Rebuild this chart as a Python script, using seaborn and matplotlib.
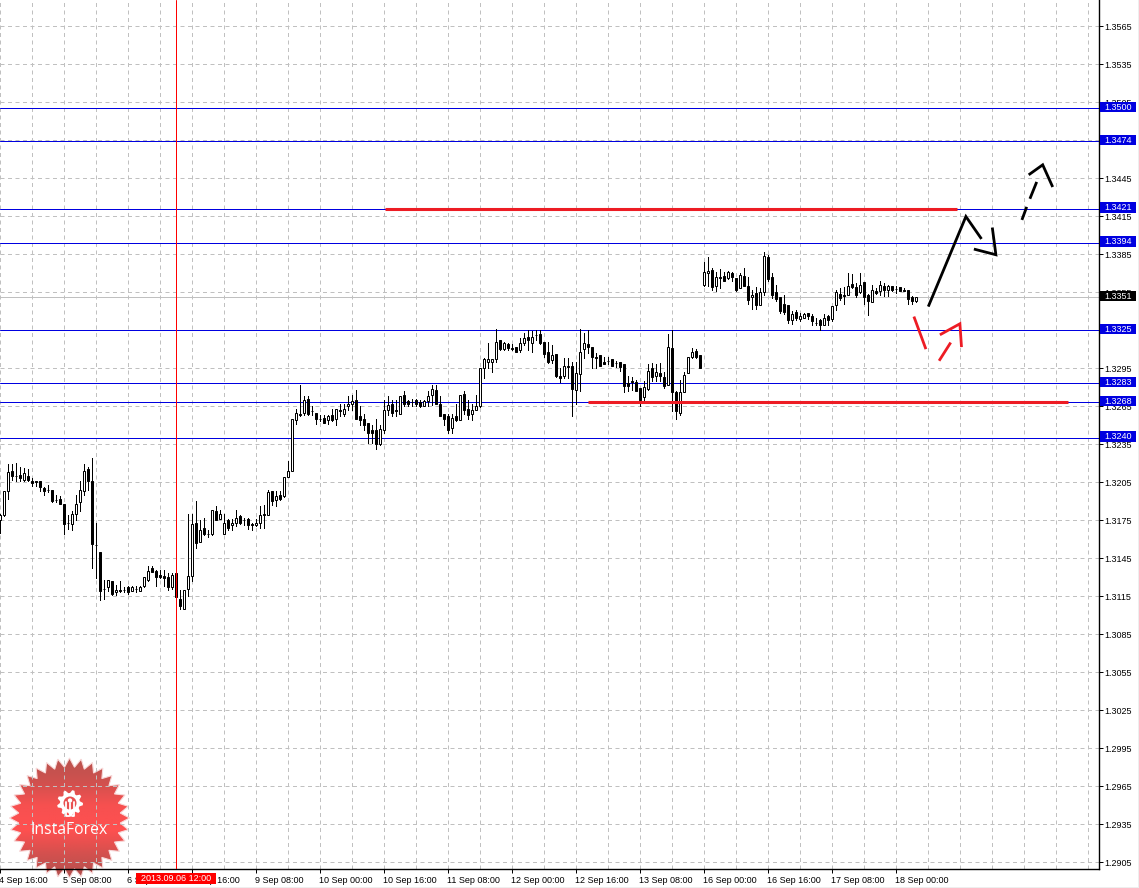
import numpy as np
import pandas as pd
import seaborn as sns
import matplotlib.pyplot as plt
from matplotlib.patches import Polygon, Circle, Rectangle
from matplotlib.colors import LinearSegmentedColormap
from matplotlib.transforms import ScaledTranslation

# candle values in pips (13175 = 1.3175)
opens = [13175,13179,13198,13214,13210,13210.5,13207,13210,13206,13206,
         13206,13200,13199,13199,13191,13192,13188,13173,13172,13180,
         13189,13198,13215,13206,13155,13150,13120.5,13122,13127,13118,
         13120,13120,13122,13119,13121,13119,13123,13128,13137,13135,
         13132,13131,13130,13122,13133,13113,13105,13121,13131,13173,
         13158,13169,13164,13164,13182,13176,13164,13175,13171,13173,
         13178,13175,13175.5,13172,13171,13173,13180,13179,13198,13191,
         13195,13194,13209,13214,13254,13258,13259.5,13270.5,13261,13259.5,
         13255,13255.5,13254,13258,13255,13262,13259,13265,13267,13270,
         13257,13255,13252,13246,13246,13235,13246,13262,13267,13262,
         13259,13274,13269,13268,13270,13268,13265,13269,13273.5,13278,
         13267,13259,13257,13248,13257,13254,13274.5,13263,13259,13262,
         13265,13295,13300,13300,13302,13317,13310,13314,13311,13311.5,
         13309.5,13315,13319.5,13315,13321,13322,13316,13308,13301.5,13306,
         13288.5,13289,13297,13297,13277.5,13290,13310,13314,13311.5,13304,
         13305,13300,13300.5,13302,13299,13300,13298,13283,13285,13284,
         13279,13272,13278.5,13295,13288.5,13291.5,13288,13282,13311,13276.5,
         13259.5,13276.5,13291,13304,13308.5,13305,13361,13370,13372.5,13359.5,
         13367,13367.5,13366,13370,13366.5,13358,13368,13360,13351,13354,
         13345,13355,13383,13367,13355,13351,13346,13345,13333,13339,
         13334,13334.5,13338.5,13336.5,13331,13333,13329,13336.5,13334,13344.5,
         13353.5,13353,13353,13361.5,13359,13355,13363,13353,13347.5,13356,
         13356,13360,13357,13359.5,13357.5,13359,13357,13357,13351,13348]
closes = [13179,13198,13213,13210,13210,13208,13212,13207,13204,13205,
          13201,13198,13199,13190,13191,13188,13172,13173,13180,13188,
          13199,13214,13206,13156,13155,13119,13120.5,13128,13117,13120,
          13119,13120,13118,13122,13121,13122,13130,13135,13134,13130,
          13130,13129,13122,13132,13114,13107,13120,13131,13172,13157,
          13167,13164,13164,13183,13175,13180,13173,13169,13173,13177,
          13173,13175,13171,13171,13173,13179,13179,13197,13190,13194,
          13192,13209,13214,13255,13259.5,13258.5,13270,13259,13261,13255,
          13255,13252,13257,13254,13263,13261,13263,13267,13269,13255,
          13254,13250,13244,13244,13235,13247,13262,13266,13259.5,13261,
          13273,13267,13267,13268,13267,13265,13269,13273,13278.5,13267,
          13257,13255,13246,13256,13254,13274,13262,13258,13262,13265,
          13295,13302,13302,13302,13315.5,13310,13315,13311,13310,13308,
          13315,13319,13317,13319.5,13321,13315,13306,13300,13305,13288.5,
          13287.5,13297,13295.5,13278.5,13291,13308,13315,13312,13303.5,13303,
          13297,13298,13300.5,13297,13299,13296,13280.5,13281,13284,13277,
          13270,13280,13293,13288,13292,13288.5,13281,13311.5,13276,13261,
          13276,13289.5,13304,13308,13303.5,13295,13371,13371.5,13359,13367,
          13366,13364,13371,13367,13357,13368.5,13360,13349,13352.5,13344.5,
          13355,13383.5,13365.5,13352.5,13349.5,13340,13339,13333,13337.5,13334.5,
          13336,13337.5,13336,13332,13331,13329,13334.5,13333,13344,13355,
          13350,13352,13360,13359,13353,13361,13351.5,13348,13357,13354,
          13361,13357,13360,13357,13357.5,13356,13356,13349.5,13348,13351]
highs = [13180,13198,13219,13219,13220,13217,13216,13215,13208,13206,
         13206,13201,13203,13199,13195,13194,13188,13179,13182,13195,
         13206,13219,13217,13224,13173,13150,13128,13128,13127,13124,
         13127,13122,13123,13123,13123,13123,13130,13139,13139,13136,
         13136,13136,13133,13133,13134,13120,13120,13180,13180,13190,
         13175,13177,13167,13183,13186,13183,13180,13176,13176,13183,
         13179,13177,13177,13173,13176,13186,13187,13199,13198,13198,
         13198,13209,13222,13255,13263,13282,13273,13273,13265,13259.5,
         13258,13258,13258,13263,13263,13267,13267,13273,13274,13278,
         13265,13259,13252,13250,13255,13250,13270,13273,13270,13270,
         13273,13277,13270,13270.5,13270.5,13270,13270,13277,13282,13282,
         13273,13259,13259,13259,13267,13274,13277,13270,13267,13274,
         13295,13303,13315,13302,13326,13317,13316,13315,13314,13312,
         13319,13323,13325,13324,13325,13325,13316,13315.5,13313,13306,
         13295,13303,13303,13300,13300,13326,13323,13325,13312,13307,
         13305,13304,13304,13302,13301,13300,13298,13289,13288,13286,
         13279,13285,13298,13299,13298,13299,13292,13322,13325,13277,
         13286,13292,13304,13311,13310,13305,13379,13383,13374,13370.5,
         13373,13371,13372,13371,13366.5,13370,13374,13367,13357,13359,
         13358,13387,13384.5,13370,13361,13351,13353,13345,13340,13341,
         13338.5,13338.5,13338.5,13337.5,13334.5,13334,13337.5,13337,13344,13357,
         13358,13359,13370,13369,13362,13370,13363,13353.5,13361,13358,
         13363.5,13362,13361,13360,13359.5,13359,13358,13357,13352,13351.5]
lows = [13165,13178,13192,13207,13206,13206,13206,13206,13202,13202,
        13198,13195,13197,13189,13189,13188,13164,13168,13167,13175,
        13182,13195,13199,13137,13129,13112,13113,13119,13116,13116,
        13118,13118,13117,13119,13118,13119,13122,13127,13134,13123,
        13129,13123,13120,13121,13112,13105,13105,13115,13127,13153,
        13158,13163,13161.5,13163,13175,13176,13164,13167,13167.5,13170,
        13172,13171,13168,13167,13170,13169,13169,13179,13187,13186,
        13191,13193,13209,13214,13251,13257,13258,13258,13258,13251,
        13253,13252,13251,13253,13250,13257,13257,13262,13262,13255,
        13250,13246,13236,13236,13231,13234.5,13244,13258,13257,13257,
        13259,13265,13265,13265,13265,13264,13265,13265,13266,13267,
        13257,13250,13244,13244,13253,13254,13259,13255,13254,13262,
        13264,13287,13295,13292,13300,13309.5,13309,13309.5,13309.5,13308,
        13308,13313,13309.5,13308,13317,13314,13304,13299,13299,13288,
        13284,13287,13287,13257,13267,13277,13303,13307,13295,13295,
        13297,13298,13298,13297,13296,13293,13276,13277,13278,13277,
        13265,13270,13278,13284.5,13284.5,13285,13279,13282,13261,13255,
        13258,13276.5,13291,13303,13303,13295,13360,13359.5,13357,13355.5,
        13358,13364,13365,13363.5,13355.5,13358,13359.5,13345.5,13342,13341.5,
        13345,13353,13363.5,13350,13348,13338.5,13337.5,13330.5,13330,13333,
        13332,13334.5,13334,13329,13329,13325,13329,13329,13332.5,13341,
        13349,13346,13353,13358,13351,13354,13346,13337,13347.5,13353.5,
        13353,13352,13352,13355.5,13354,13356,13356,13346,13346,13347.5]

date_labels = ['4 Sep 16:00', '5 Sep 08:00', '6 Sep 00:00', '6 Sep 16:00', '9 Sep 08:00',
               '10 Sep 00:00', '10 Sep 16:00', '11 Sep 08:00', '12 Sep 00:00', '12 Sep 16:00',
               '13 Sep 08:00', '16 Sep 00:00', '16 Sep 16:00', '17 Sep 08:00', '18 Sep 00:00']
price_ticks = [1.2905 + 0.003 * i for i in range(23)]
levels = [1.3500, 1.3474, 1.3421, 1.3394, 1.3325, 1.3283, 1.3268, 1.3240]
bid = 1.3351
cursor_bar = 44
cursor_label = '2013.09.06 12:00'

# hand drawn lines: (bar, pips)
red_levels = [(96.1, 239.1, 1.3421), (146.9, 266.9, 1.3268)]
black_strokes = [[(232.0, 13343.6), (241.4, 13414.7), (245.3, 13397)],
                 [(243.4, 13389), (248.9, 13384.5), (248.0, 13406)],
                 [(255.4, 13412), (256.6, 13422.3)],
                 [(257.4, 13428.7), (259.1, 13442)],
                 [(257.1, 13447.6), (260.6, 13455.5), (263.1, 13438)]]
red_strokes = [[(228.4, 13335.7), (231.4, 13310)],
               [(234.7, 13300.8), (237.6, 13315.2)],
               [(234.9, 13321.3), (239.9, 13330), (240.3, 13311.6)]]

W, H = 1139, 888
RIGHT, BOTTOM = 1098.5, 869
FONT = 'Liberation Sans'
PX = 0.72
RED = '#ed1c24'
BLUE = '#0000e0'
YMIN, YMAX = 1.289954, 1.358564
XMIN = -0.075

sns.set_theme(style='white')
plt.rcParams['font.family'] = [FONT, 'DejaVu Sans']

df = pd.DataFrame({'bar': np.arange(len(opens)), 'open': opens, 'close': closes, 'high': highs, 'low': lows})
for c in ['open', 'close', 'high', 'low']:
    df[c] = df[c] / 10000
wicks = df.melt(id_vars='bar', value_vars=['high', 'low'], value_name='price')

fig = plt.figure(figsize=(W / 100, H / 100), dpi=100, facecolor='white')
ax = fig.add_axes([0, (H - BOTTOM) / H, RIGHT / W, BOTTOM / H], zorder=1)
ax.patch.set_visible(False)

sns.lineplot(data=wicks, x='bar', y='price', units='bar', estimator=None, color='black',
             linewidth=PX, legend=False, sort=False, ax=ax, zorder=3, antialiased=False)

up = df['close'] > df['open']
ax.bar(df['bar'], (df['close'] - df['open']).abs(), bottom=df[['open', 'close']].min(axis=1),
       width=0.5, color=np.where(up, 'white', 'black'), edgecolor='black', linewidth=PX, zorder=4)

ax.set_xlim(XMIN, XMIN + RIGHT / 4)
ax.set_ylim(YMIN, YMAX)
ax.set_xlabel('')
ax.set_ylabel('')

# grid and ticks
ax.set_xticks(np.arange(len(date_labels)) * 16)
ax.set_xticks(np.arange(0, 274, 8), minor=True)
ax.set_xticklabels(date_labels, ha='left', fontsize=6.5, color='black')
ax.set_yticks(price_ticks)
ax.set_yticklabels([f'{p:.4f}' for p in price_ticks], fontsize=6.5, color='black')
ax.yaxis.tick_right()
ax.grid(True, which='both', color='#c0c0c0', linewidth=PX, linestyle=(0, (4, 3.5)), zorder=0)
ax.tick_params(axis='x', which='major', length=3, width=PX, color='black', pad=2, bottom=True)
ax.tick_params(axis='x', which='minor', length=0)
ax.tick_params(axis='y', length=3, width=PX, color='black', pad=1.3, right=True)
nudge = ScaledTranslation(-1 / 100, 0, fig.dpi_scale_trans)
for lab in ax.get_xticklabels():
    lab.set_transform(lab.get_transform() + nudge)
for s in ['left', 'top']:
    ax.spines[s].set_visible(False)
for s in ['right', 'bottom']:
    ax.spines[s].set_visible(True)
    ax.spines[s].set_color('black')
    ax.spines[s].set_linewidth(1.0)

# levels and price boxes
py = (YMAX - YMIN) / BOTTOM
ytrans = ax.get_yaxis_transform()


def price_box(value, col):
    ax.add_patch(Rectangle((1 + 1.5 / RIGHT, value - 4 * py), 36 / RIGHT, 10.5 * py, transform=ytrans,
                           fc=col, ec='none', clip_on=False, zorder=6))
    ax.text(1 + 19.5 / RIGHT, value + 1 * py, f'{value:.4f}', transform=ytrans, ha='center', va='center',
            fontsize=6.5, color='white', zorder=7, clip_on=False)


for lev in levels:
    ax.axhline(lev, color=BLUE, linewidth=PX, zorder=2)
    price_box(lev, BLUE)
ax.axhline(bid, color='#c0c0c0', linewidth=PX, zorder=2)
price_box(bid, 'black')

ax.axvline(cursor_bar, color='#ff0000', linewidth=PX, zorder=5)
xtrans = ax.get_xaxis_transform()
ax.add_patch(Rectangle((cursor_bar - 10, -15 / BOTTOM), 20, 11 / BOTTOM, transform=xtrans,
                       fc='#ff0000', ec='none', clip_on=False, zorder=6))
ax.text(cursor_bar, -9.5 / BOTTOM, cursor_label, transform=xtrans, ha='center', va='center',
        fontsize=6.5, color='white', zorder=7, clip_on=False)

for x0, x1, lev in red_levels:
    ax.plot([x0, x1], [lev, lev], color=RED, linewidth=2.2, solid_capstyle='butt', zorder=5)
for strokes, col in [(black_strokes, 'black'), (red_strokes, RED)]:
    for st in strokes:
        ax.plot([p[0] for p in st], [p[1] / 10000 for p in st], color=col, linewidth=2.0,
                solid_joinstyle='miter', solid_capstyle='butt', zorder=5)

# logo behind the chart, in pixel coordinates
lg = fig.add_axes([0, 0, 1, 1], zorder=0)
lg.axis('off')
cx, cy = 69.5, 818
teeth = 32
ang = np.arange(teeth * 2) * np.pi / teeth
rad = np.where(np.arange(teeth * 2) % 2 == 0, 60, 51)
star = Polygon(np.c_[cx + rad * np.cos(ang), cy + rad * np.sin(ang)], closed=True,
               fc='none', ec='#f8d8d8', lw=0.8)
cmap = LinearSegmentedColormap.from_list('logo', ['#b9534f', '#cf514e', '#f75050', '#ff5050', '#d4504e', '#b2504e'])
im = lg.imshow(np.linspace(0, 1, 64)[:, None], cmap=cmap, extent=(cx - 61, cx + 61, cy + 61, cy - 61),
               interpolation='bilinear', aspect='auto')
lg.add_patch(star)
im.set_clip_path(star)
lg.set_xlim(0, W)
lg.set_ylim(H, 0)

# gear, name and window edge sit above the grid
top = fig.add_axes([0, 0, 1, 1], zorder=2)
top.set_xlim(0, W)
top.set_ylim(H, 0)
top.axis('off')
gx, gy = 70, 803
n = 9
t = np.linspace(0, 2 * np.pi, n * 4, endpoint=False)
r = np.where(np.arange(n * 4) % 4 < 2, 13, 10)
top.add_patch(Polygon(np.c_[gx + r * np.cos(t), gy + r * np.sin(t)], closed=True, fc='white', ec='none'))
top.add_patch(Circle((gx, gy), 6.5, fc='#e85050', ec='none'))
top.add_patch(Circle((gx, gy - 2.5), 2.2, fc='white', ec='none'))
top.plot([gx - 4, gx - 4, gx - 1.5], [gy - 1, gy + 13, gy + 13], color='white', lw=1.3)
top.plot([gx + 4, gx + 4, gx + 1.5], [gy - 1, gy + 13, gy + 13], color='white', lw=1.3)
top.plot([gx, gx], [gy, gy + 13], color='white', lw=1.3)
top.text(69.5, 830, 'InstaForex', color='white', fontsize=11.3, ha='center', va='center', family='Open Sans')
top.add_patch(Rectangle((0, 886.5), W, 1.5, fc='#eeeeee', ec='none'))
top.add_patch(Rectangle((1137.5, 0), 1.5, H, fc='#eeeeee', ec='none'))

fig.savefig('out.png', dpi=100)
